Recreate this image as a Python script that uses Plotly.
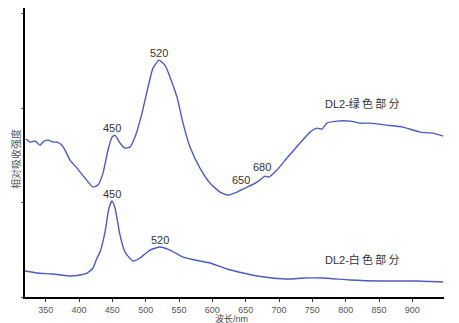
import plotly.graph_objects as go

# Green part spectrum (wavelength nm, relative absorbance)
green_wl = [320.5, 326.5, 334, 341.5, 347.5, 353.5, 361, 367, 374.5, 379, 386.5, 397, 409, 421, 428.5,
            436, 443.5, 449.5, 454, 461.5, 469, 476.5, 484, 494.5, 503.5, 511, 520, 529, 536.5, 547,
            556, 566.5, 581.5, 596.5, 611.5, 623.5, 637, 649, 667, 679, 685, 697, 712, 731.5, 746.5,
            757, 764.5, 772, 787, 806.5, 821.5, 836.5, 862, 886, 911.5, 931, 946]
green_val = [1.672, 1.640, 1.651, 1.608, 1.651, 1.661, 1.640, 1.640, 1.608, 1.556, 1.450, 1.365, 1.259, 1.164, 1.185,
             1.312, 1.556, 1.693, 1.714, 1.630, 1.577, 1.587, 1.693, 1.947, 2.222, 2.423, 2.508, 2.455, 2.328, 2.116,
             1.841, 1.587, 1.365, 1.206, 1.111, 1.079, 1.111, 1.153, 1.217, 1.280, 1.270, 1.344, 1.471, 1.630, 1.746,
             1.788, 1.778, 1.841, 1.862, 1.862, 1.841, 1.841, 1.820, 1.799, 1.746, 1.735, 1.704]

# White part spectrum
white_wl = [319, 337, 361, 386.5, 401.5, 412, 421, 427, 431.5, 439, 445, 449.5, 454, 461.5, 469, 481,
            491.5, 506.5, 521.5, 536.5, 556, 581.5, 596.5, 622, 646, 667, 689.5, 716.5, 736, 766, 806.5,
            856, 907, 946]
white_val = [0.275, 0.254, 0.243, 0.222, 0.233, 0.254, 0.307, 0.413, 0.476, 0.688, 0.942, 1.016, 0.942, 0.656,
             0.476, 0.381, 0.413, 0.497, 0.529, 0.497, 0.423, 0.381, 0.360, 0.296, 0.254, 0.222, 0.201, 0.190,
             0.201, 0.201, 0.180, 0.169, 0.169, 0.159]

x_ticks = [350, 400, 450, 500, 550, 600, 650, 700, 750, 800, 850, 900]
y_ticks = [0, 1, 2, 3]

# Peak labels: (text, wavelength, value)
labels = [("520", 520, 2.582), ("450", 449.5, 1.788), ("650", 643, 1.238), ("680", 674.5, 1.376),
          ("450", 449.5, 1.090), ("520", 521.5, 0.603)]
series_labels = [("DL2-绿\u2009色\u2009部\u2009分", 824.5, 2.053), ("DL2-白\u2009色\u2009部\u2009分", 824.5, 0.392)]

FONT = "Liberation Sans, Arial, Noto Sans CJK SC"
LINE = "#4b5bc4"

fig = go.Figure()
fig.add_trace(go.Scatter(x=green_wl, y=green_val, mode="lines",
                         line=dict(color=LINE, width=1.4, shape="spline", smoothing=0.5), showlegend=False))
fig.add_trace(go.Scatter(x=white_wl, y=white_val, mode="lines",
                         line=dict(color=LINE, width=1.4, shape="spline", smoothing=0.5), showlegend=False))

ann = []
for t, x, y in labels:
    ann.append(dict(x=x, y=y, text=t, showarrow=False, font=dict(family=FONT, size=11, color="#333333")))
for t, x, y in series_labels:
    ann.append(dict(x=x, y=y, text=t, showarrow=False, font=dict(family=FONT, size=11, color="#333333")))
ann.append(dict(xref="paper", yref="paper", x=(15 - 25) / 419, y=(297 - 159) / 289, text="相对吸收强度",
                xanchor="center", yanchor="middle",
                textangle=-90, showarrow=False, font=dict(family="Noto Sans CJK SC", size=10, color="#555555")))
ann.append(dict(xref="paper", yref="paper", x=(231 - 25) / 419, y=(297 - 318) / 289, text="波长/nm",
                xanchor="center", yanchor="middle",
                showarrow=False, font=dict(family=FONT, size=9, color="#444444")))

fig.update_layout(
    width=459, height=323,
    margin=dict(l=25, r=15, t=8, b=26),
    paper_bgcolor="white", plot_bgcolor="white",
    annotations=ann,
    xaxis=dict(range=[319, 947.5], tickvals=x_ticks, ticks="outside", ticklen=3, tickcolor="#333",
               showline=True, linecolor="black", linewidth=2, showgrid=False, zeroline=False,
               tickfont=dict(family=FONT, size=9, color="#555555")),
    yaxis=dict(range=[0, 3.06], tickvals=y_ticks, ticks="outside", ticklen=2, tickcolor="#555",
               showticklabels=False, showline=True, linecolor="black", linewidth=2, showgrid=False,
               zeroline=False),
)
fig.write_html("out.html", config={"displayModeBar": False},
               post_script="document.body.style.margin='0';")
